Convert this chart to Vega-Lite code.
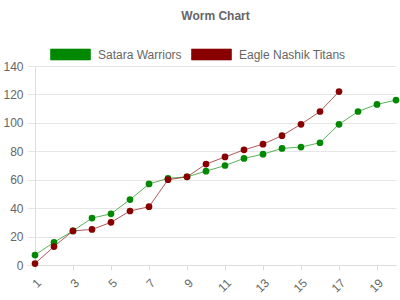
{
  "$schema": "https://vega.github.io/schema/vega-lite/v6.json",
  "autosize": {"type": "none"},
  "width": 361,
  "height": 199,
  "padding": {"left": 35, "top": 66, "right": 4, "bottom": 35},
  "background": "white",
  "title": {"text": "Worm Chart", "font": "Liberation Sans", "fontSize": 12, "fontWeight": "bold", "color": "#666666", "anchor": "middle", "frame": "group", "offset": 21},
  "config": {
    "view": {"stroke": null},
    "axis": {"labelFont": "Liberation Sans", "labelFontSize": 12, "labelColor": "#666666", "gridColor": "#e6e6e6", "domainColor": "#dddddd", "tickColor": "#dddddd"}
  },
  "data": {"values": [
    {"over": 1, "team": "Satara Warriors", "runs": 7},
    {"over": 2, "team": "Satara Warriors", "runs": 16},
    {"over": 3, "team": "Satara Warriors", "runs": 24},
    {"over": 4, "team": "Satara Warriors", "runs": 33},
    {"over": 5, "team": "Satara Warriors", "runs": 36},
    {"over": 6, "team": "Satara Warriors", "runs": 46},
    {"over": 7, "team": "Satara Warriors", "runs": 57},
    {"over": 8, "team": "Satara Warriors", "runs": 61},
    {"over": 9, "team": "Satara Warriors", "runs": 62},
    {"over": 10, "team": "Satara Warriors", "runs": 66},
    {"over": 11, "team": "Satara Warriors", "runs": 70},
    {"over": 12, "team": "Satara Warriors", "runs": 75},
    {"over": 13, "team": "Satara Warriors", "runs": 78},
    {"over": 14, "team": "Satara Warriors", "runs": 82},
    {"over": 15, "team": "Satara Warriors", "runs": 83},
    {"over": 16, "team": "Satara Warriors", "runs": 86},
    {"over": 17, "team": "Satara Warriors", "runs": 99},
    {"over": 18, "team": "Satara Warriors", "runs": 108},
    {"over": 19, "team": "Satara Warriors", "runs": 113},
    {"over": 20, "team": "Satara Warriors", "runs": 116},
    {"over": 1, "team": "Eagle Nashik Titans", "runs": 1},
    {"over": 2, "team": "Eagle Nashik Titans", "runs": 13},
    {"over": 3, "team": "Eagle Nashik Titans", "runs": 24},
    {"over": 4, "team": "Eagle Nashik Titans", "runs": 25},
    {"over": 5, "team": "Eagle Nashik Titans", "runs": 30},
    {"over": 6, "team": "Eagle Nashik Titans", "runs": 38},
    {"over": 7, "team": "Eagle Nashik Titans", "runs": 41},
    {"over": 8, "team": "Eagle Nashik Titans", "runs": 60},
    {"over": 9, "team": "Eagle Nashik Titans", "runs": 62},
    {"over": 10, "team": "Eagle Nashik Titans", "runs": 71},
    {"over": 11, "team": "Eagle Nashik Titans", "runs": 76},
    {"over": 12, "team": "Eagle Nashik Titans", "runs": 81},
    {"over": 13, "team": "Eagle Nashik Titans", "runs": 85},
    {"over": 14, "team": "Eagle Nashik Titans", "runs": 91},
    {"over": 15, "team": "Eagle Nashik Titans", "runs": 99},
    {"over": 16, "team": "Eagle Nashik Titans", "runs": 108},
    {"over": 17, "team": "Eagle Nashik Titans", "runs": 122}
  ]},
  "encoding": {
    "x": {"field": "over", "type": "ordinal", "scale": {"type": "point", "padding": 0},
      "axis": {"title": null, "values": [1,3,5,7,9,11,13,15,17,19], "labelAngle": -45, "tickSize": 5, "labelPadding": 7, "grid": false}},
    "y": {"field": "runs", "type": "quantitative", "scale": {"domain": [0, 140], "nice": false},
      "axis": {"title": null, "values": [0,20,40,60,80,100,120,140], "tickSize": 8, "tickColor": "#e6e6e6", "labelPadding": 4, "domain": true, "domainColor": "#dddddd"}},
    "color": {"field": "team", "type": "nominal",
      "scale": {"domain": ["Satara Warriors", "Eagle Nashik Titans"], "range": ["#008800", "#880000"]},
      "legend": {"title": null, "orient": "none", "legendX": 25, "legendY": -22, "direction": "horizontal",
        "symbolType": "M-2,-0.55H2V0.55H-2Z", "symbolSize": 400, "labelFont": "Liberation Sans", "labelFontSize": 12, "labelColor": "#666666", "labelOffset": 17, "columnPadding": 7,
        "encode": {"symbols": {"update": {"fill": {"scale": "color", "field": "value"}, "fillOpacity": {"value": 1}, "stroke": {"scale": "color", "field": "value"}, "strokeOpacity": {"value": 0.6}, "strokeWidth": {"value": 1}, "opacity": {"value": 1}}}}}
    }
  },
  "layer": [
    {"mark": {"type": "line", "strokeWidth": 1, "strokeOpacity": 0.65}},
    {"mark": {"type": "point", "filled": true, "size": 45, "opacity": 1}}
  ]
}
